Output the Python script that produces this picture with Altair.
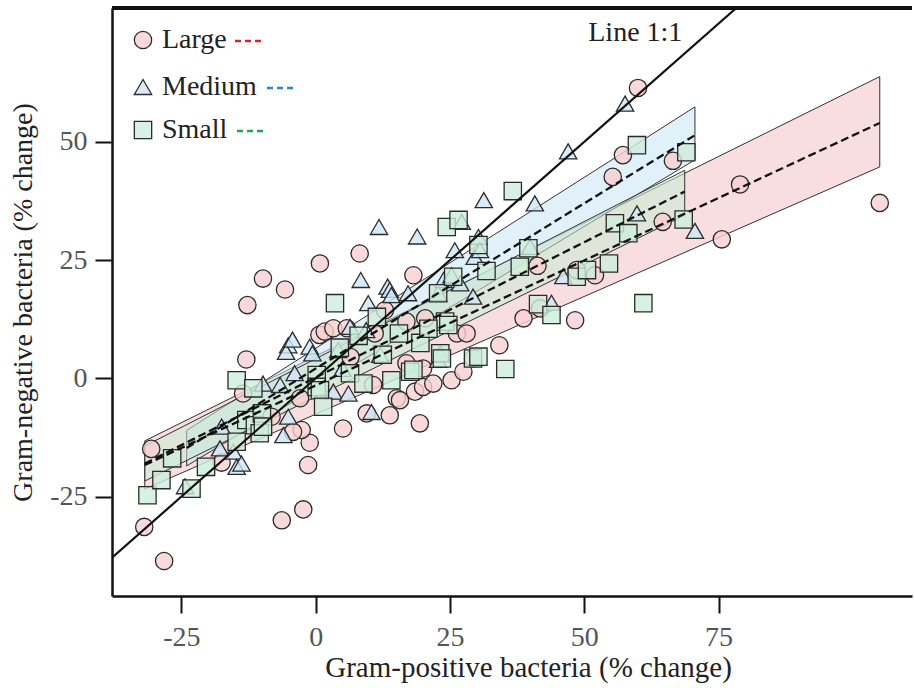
import altair as alt
import pandas as pd

# ---------------- data ----------------
groups = ["Large", "Medium", "Small"]

large_x = [-31.9, -28.2, -30.6, -17.5, -13.5, -12.9, -12.7, -9.8, -5.7, -8.2, -6.3, -2.3,
           -1.4, -1.1, -2.6, -4.2, -2.9, 0.8, 0.7, 1.7, 3.3, 5.8, 5.1, 8.2, 9.5, 10.7,
           12.9, 13.8, 15.1, 15.7, 16.9, 16.9, 18.2, 18.5, 19.4, 20.0, 20.0, 20.4, 21.9,
           25.3, 26.3, 27.5, 28.1, 29.3, 34.2, 38.7, 41.3, 41.8, 48.3, 48.6, 52.0, 55.3,
           57.2, 60.0, 64.6, 66.5, 75.6, 79.0, 105.0, 6.5, 11.0]
large_y = [-31.4, -38.6, -14.9, -17.8, -3.2, 4.0, 15.5, 21.1, 18.8, -8.1, -30.0, -27.7,
           -18.3, -13.6, -10.9, -11.3, -4.2, 24.3, 9.2, 9.9, 10.6, 10.6, -10.6, 26.4, -7.4, -1.4,
           14.4, -7.8, -4.2, -4.6, 12.0, 3.2, 21.8, -2.8, -9.5, -1.8, 2.1, 12.7, -1.1,
           -0.4, 9.5, 1.4, 9.5, 4.2, 7.0, 12.7, 23.8, 14.8, 12.3, 22.9, 21.8, 42.6,
           47.2, 61.4, 33.1, 46.0, 29.4, 41.0, 37.1, 4.5, 9.5]

medium_x = [-24.3, -17.8, -17.5, -15.3, -14.7, -13.8, -9.8, -6.6, -6.0, -5.1, -5.1, -5.5,
            -4.3, -3.9, -1.1, -0.6, 3.3, 4.2, 6.1, 6.4, 8.4, 9.4, 9.8, 10.4, 11.8, 13.4,
            13.8, 14.1, 17.2, 18.9, 22.8, 22.8, 23.2, 23.8, 25.3, 25.9, 26.9, 27.2, 29.3,
            29.6, 30.3, 30.6, 31.3, 39.9, 40.8, 43.9, 46.1, 47.0, 57.6, 59.8, 70.6, 5.0, 12.0]
medium_y = [-22.8, -14.8, -10.2, -15.5, -18.7, -18.0, -1.1, -1.4, -12.0, -8.1, 7.0, 5.6,
            8.2, 1.1, 6.7, 5.3, -2.8, 6.0, -3.2, 10.9, 20.8, 10.2, 15.9, -7.1, 32.0, 19.4,
            18.7, 17.6, 18.0, 30.0, 18.0, 3.9, 5.3, 20.8, 21.8, 27.1, 20.1, 33.1, 17.3,
            25.7, 29.9, 27.1, 37.7, 27.8, 37.0, 16.0, 21.6, 48.0, 58.1, 34.9, 31.2, 2.0, 5.0]

small_x = [-31.3, -28.7, -26.7, -23.1, -20.4, -14.7, -14.7, -12.9, -11.6, -11.3, -10.4, -10.0,
           -9.8, 0.2, 0.2, 0.8, 1.4, 3.6, 6.4, 8.9, 11.4, 14.1, 17.6, 18.2, 22.8, 23.2,
           23.5, 24.1, 24.4, 24.7, 25.6, 26.6, 29.3, 30.3, 30.3, 31.8, 35.3, 36.7, 38.0,
           39.6, 41.4, 43.9, 48.6, 50.5, 54.6, 55.7, 58.2, 59.8, 61.0, 68.5, 69.0,
           4.5, 8.0, 12.5, 15.5, 19.5, 21.0]
small_y = [-24.7, -21.5, -16.9, -23.3, -18.7, -13.4, -0.4, -8.8, -2.1, -9.9, -11.6, -7.4,
           -10.2, 0.7, -1.8, -2.5, -6.0, 15.9, 1.1, -1.1, 13.0, -0.4, 1.4, 1.8, 18.0, 5.3,
           4.2, 12.0, 32.0, 11.3, 21.5, 33.5, 4.2, 28.2, 4.6, 22.7, 2.0, 39.6, 23.6,
           27.5, 15.7, 13.4, 21.5, 22.9, 24.3, 32.8, 30.7, 49.3, 15.9, 33.6, 47.8,
           6.5, 9.0, 5.0, 9.5, 7.5, 10.5]

# regression fits and confidence bands (ends of each fitted range)
fit_x = {"Large": [-31.8, 105.0], "Medium": [-24.0, 70.6], "Small": [-31.8, 68.7]}
fit_y = {"Large": [-18.3, 54.0], "Medium": [-14.7, 51.4], "Small": [-18.0, 39.5]}
band_lo = {"Large": [-23.4, 44.7], "Medium": [-18.5, 46.2], "Small": [-21.7, 34.5]}
band_hi = {"Large": [-13.2, 63.8], "Medium": [-11.0, 57.4], "Small": [-14.3, 44.0]}

one_to_one = [-37.9, 78.3]
x_ticks = [-25, 0, 25, 50, 75]
y_ticks = [-25, 0, 25, 50]
x_title = "Gram-positive bacteria (% change)"
y_title = "Gram-negative bacteria (% change)"
note = "Line 1:1"

# ---------------- tables ----------------
series = {"Large": (large_x, large_y), "Medium": (medium_x, medium_y), "Small": (small_x, small_y)}
pts = pd.DataFrame([{"group": g, "gp": x, "gn": y}
                    for g in groups for x, y in zip(*series[g])])
bands = pd.DataFrame([{"group": g, "gp": fit_x[g][i], "fit": fit_y[g][i],
                       "lo": band_lo[g][i], "hi": band_hi[g][i]}
                      for g in groups for i in range(2)])
diag = pd.DataFrame({"gp": one_to_one, "gn": one_to_one})
note_df = pd.DataFrame({"gp": [59.5], "gn": [73.0], "t": [note]})

# ---------------- styles ----------------
FONT = "Liberation Serif"
STROKE = "#2b2b2b"
shapes = {"Large": "circle", "Medium": "triangle-up", "Small": "square"}
point_fill = {"Large": "#f9cfd1", "Medium": "#cde6f6", "Small": "#cdeedb"}
band_fill = {"Large": "#f3c3c6", "Medium": "#c9e6f6", "Small": "#c9ebd4"}
dash_col = {"Large": "#d7262b", "Medium": "#2b86d6", "Small": "#1ea653"}
# legend layout (pixels inside the plot area): symbol centre y, dash start x
legend_rows = {"Large": (32, 123), "Medium": (79, 155), "Small": (122, 125)}

xs = alt.Scale(domain=[-37.9, 111.0], nice=False, zero=False)
ys = alt.Scale(domain=[-46.0, 78.3], nice=False, zero=False)
x_axis = alt.Axis(values=x_ticks, title=x_title, labelExpr="'' + datum.value",
                  labelPadding=10, titlePadding=2, titleFontSize=29, titleX=416)
y_axis = alt.Axis(values=y_ticks, title=y_title, labelExpr="'' + datum.value",
                  labelPadding=8, titlePadding=12)


def X(field):
    return alt.X(f"{field}:Q", scale=xs, axis=x_axis)


def Y(field):
    return alt.Y(f"{field}:Q", scale=ys, axis=y_axis)


base_b = alt.Chart(bands)
band_layers = [
    base_b.transform_filter(alt.datum.group == g).mark_area(
        fill=band_fill[g], fillOpacity=0.55, stroke="#333333", strokeWidth=1
    ).encode(x=X("gp"), y=Y("lo"), y2="hi")
    for g in groups
]

point_layers = [
    alt.Chart(pts).transform_filter(alt.datum.group == g).mark_point(
        filled=True, shape=shapes[g], size=300, fill=point_fill[g], fillOpacity=0.8,
        stroke=STROKE, strokeWidth=1.3, strokeOpacity=1, opacity=1
    ).encode(x=X("gp"), y=Y("gn"))
    for g in groups
]

fits = base_b.mark_line(color="#111", strokeDash=[8, 4], strokeWidth=2.3).encode(
    x=X("gp"), y=Y("fit"), detail="group:N")

diag_line = alt.Chart(diag).mark_line(color="#111", strokeWidth=2.2, clip=True).encode(
    x=X("gp"), y=Y("gn"))

note_text = alt.Chart(note_df).mark_text(font=FONT, fontSize=28, color="#222").encode(
    x=X("gp"), y=Y("gn"), text="t:N")

top_border = alt.Chart(pts).mark_rule(color="#111", strokeWidth=2.5).encode(
    x=alt.value(0), x2=alt.value(800), y=alt.value(0))

# legend: symbol, label, coloured dashes
legend_df = pd.DataFrame({"group": groups})
legend_layers = []
for g in groups:
    yv, dx = legend_rows[g]
    one = alt.Chart(legend_df).transform_filter(alt.datum.group == g)
    legend_layers.append(one.mark_point(
        filled=True, shape=shapes[g], size=300, fill=point_fill[g], fillOpacity=0.8,
        stroke=STROKE, strokeWidth=1.3, strokeOpacity=1, opacity=1
    ).encode(x=alt.value(31), y=alt.value(yv)))
    legend_layers.append(one.mark_text(
        font=FONT, fontSize=28, color="#222", align="left", baseline="middle"
    ).encode(x=alt.value(50), y=alt.value(yv), text="group:N"))
    legend_layers.append(one.mark_rule(
        color=dash_col[g], strokeWidth=2.5, strokeDash=[6, 4]
    ).encode(x=alt.value(dx), x2=alt.value(dx + 30), y=alt.value(yv + 1)))

chart = alt.layer(*band_layers, *point_layers, fits, diag_line, note_text, top_border,
                  *legend_layers).properties(
    width=800, height=588,
    autosize=alt.AutoSizeParams(type="none"),
    padding={"left": 112, "top": 8, "right": 2, "bottom": 92},
).configure_view(stroke=None).configure_axis(
    grid=False, domainColor="#111", domainWidth=2.5, tickColor="#111", tickWidth=2,
    tickSize=17, labelFont=FONT, labelFontSize=28, labelColor="#555",
    titleFont=FONT, titleFontSize=28, titleColor="#222", titleFontWeight="normal",
)

chart.save("out.html", embed_options={"renderer": "svg", "actions": False})
